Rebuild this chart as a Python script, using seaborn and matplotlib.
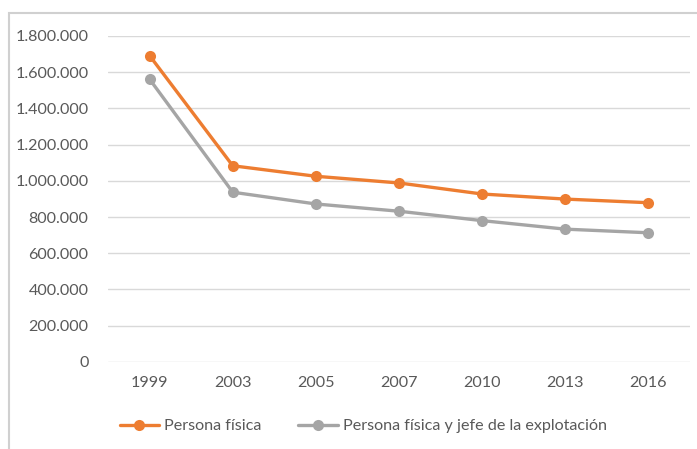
import matplotlib
matplotlib.use("Agg")
import matplotlib.pyplot as plt
from matplotlib.ticker import FuncFormatter
from matplotlib.patches import Rectangle
import pandas as pd
import seaborn as sns

# Datos
anios = ["1999", "2003", "2005", "2007", "2010", "2013", "2016"]
persona_fisica = [1691000, 1083000, 1025000, 988000, 927000, 899000, 879000]
persona_fisica_jefe = [1561000, 937000, 872000, 832000, 780000, 733000, 713000]
series = ["Persona física", "Persona física y jefe de la explotación"]
colores = ["#ED7D31", "#A5A5A5"]
ticks_y = [0, 200000, 400000, 600000, 800000, 1000000, 1200000, 1400000, 1600000, 1800000]

df = pd.DataFrame({
    "anio": anios * 2,
    "valor": persona_fisica + persona_fisica_jefe,
    "serie": [series[0]] * len(anios) + [series[1]] * len(anios),
})

sns.set_style("white")
plt.rcParams["font.family"] = ["Lato", "DejaVu Sans"]
texto = "#595959"

fig = plt.figure(figsize=(6.97, 4.49), dpi=100)
ax = fig.add_axes([0.155, 0.194, 0.835, 0.726])

sns.lineplot(data=df, x="anio", y="valor", hue="serie", palette=colores,
             marker="o", markersize=8, markeredgewidth=0, linewidth=2.4,
             sort=False, ax=ax, legend=False)

ax.set_xlim(-0.5, len(anios) - 0.5)
ax.set_ylim(0, 1800000)
ax.set_yticks(ticks_y)
ax.yaxis.set_major_formatter(FuncFormatter(lambda v, p: f"{int(v):,}".replace(",", ".")))
ax.grid(axis="y", color="#D9D9D9", linewidth=1)
ax.set_axisbelow(True)
for s in ax.spines.values():
    s.set_visible(False)
ax.tick_params(axis="both", length=0, colors=texto, labelsize=11.6)
ax.tick_params(axis="y", pad=14)
ax.tick_params(axis="x", pad=10)
ax.set_xlabel("")
ax.set_ylabel("")

# Leyenda
handles = [plt.Line2D([], [], color=c, marker="o", markersize=8, markeredgewidth=0, linewidth=2.4)
           for c in colores]
fig.legend(handles, series, loc="center", bbox_to_anchor=(0.521, 0.051), ncol=2,
           frameon=False, fontsize=11.6, labelcolor=texto, handlelength=2.45,
           handletextpad=0.3, columnspacing=2.3)

# Marco del área del gráfico (solo borde superior e izquierdo visibles)
fig.patches.append(Rectangle((9 / 697, -0.1), 1.2, 1 - 13 / 449 + 0.1, transform=fig.transFigure,
                             fill=False, edgecolor="#D0D0D0", linewidth=1.5))

fig.savefig("out.png", dpi=100)
